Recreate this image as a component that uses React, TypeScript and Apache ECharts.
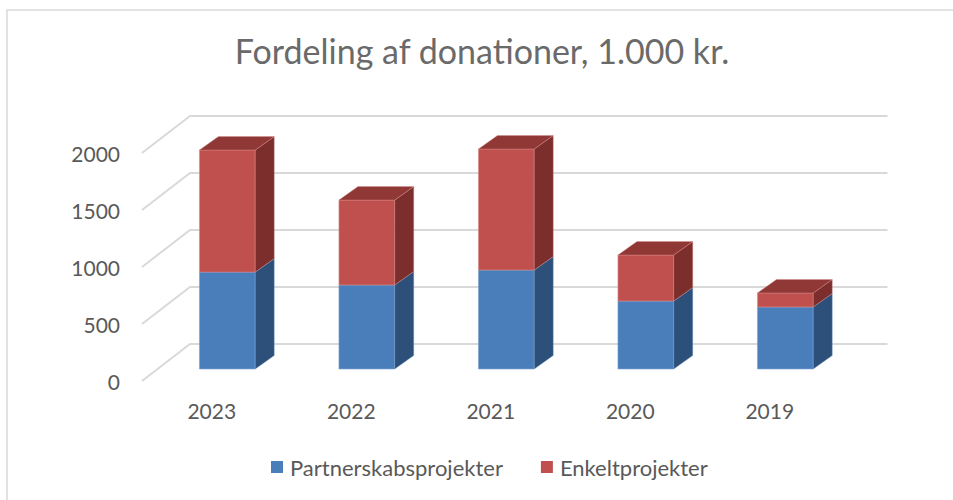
import React, { useEffect, useRef } from "react";
import * as echarts from "echarts";

const categories = ["2023", "2022", "2021", "2020", "2019"];
const partnerskab = [850, 737, 868, 596, 544];
const enkelt = [1071, 745, 1062, 404, 123];
const yTicks = [0, 500, 1000, 1500, 2000];
const seriesNames = ["Partnerskabsprojekter", "Enkeltprojekter"];

const FONT = "Lato, 'Noto Sans', sans-serif";
const TEXT = "#595959";

// 3D projection offsets (pixels)
const OX = 15.6; // bar plane relative to front plane
const OY = -12;
const DX = 19; // bar depth
const DY = -13.5;
const BX = 48; // back wall relative to front plane
const BY = -37;

const palettes = [
  { front: "#4A7EBB", side: "#2C5079", top: "#3A669B", edge: "#7FA3D0" },
  { front: "#C0504D", side: "#7C2E2D", top: "#8F3836", edge: "#D98C8A" },
];

export default function App() {
  const ref = useRef<HTMLDivElement>(null);
  useEffect(() => {
    document.body.style.margin = "0";
    const chart = echarts.init(ref.current!, undefined, { renderer: "svg" });

    const makeBarItem = (si: number, isTop: boolean) => (params: any, api: any) => {
      const i = api.value(0);
      const b = api.value(1);
      const t = api.value(2);
      const pT = api.coord([i, t]);
      const pB = api.coord([i, b]);
      const w = api.size([1, 0])[0] * 0.4;
      const x0 = pT[0] - w / 2 + OX;
      const x1 = x0 + w;
      const yT = pT[1] + OY;
      const yB = pB[1] + OY;
      const pal = palettes[si];
      const children: any[] = [
        {
          type: "rect",
          shape: { x: x0, y: yT, width: w, height: yB - yT },
          style: { fill: pal.front, stroke: pal.edge, lineWidth: 0.6 },
        },
        {
          type: "polygon",
          shape: { points: [[x1, yB], [x1 + DX, yB + DY], [x1 + DX, yT + DY], [x1, yT]] },
          style: { fill: pal.side, stroke: pal.edge, lineWidth: 0.4 },
        },
      ];
      if (isTop) {
        children.push({
          type: "polygon",
          shape: { points: [[x0, yT], [x1, yT], [x1 + DX, yT + DY], [x0 + DX, yT + DY]] },
          style: { fill: pal.top, stroke: pal.edge, lineWidth: 0.4 },
        });
      }
      return { type: "group", children };
    };

    const option: any = {
      animation: false,
      backgroundColor: "#ffffff",
      title: {
        text: "Fordeling af donationer, 1.000 kr.",
        left: 482,
        textAlign: "center",
        top: 33,
        padding: 0,
        textStyle: { fontFamily: FONT, fontSize: 34, fontWeight: "normal", color: "#6a6a6a" },
      },
      legend: {
        data: seriesNames,
        left: 271,
        top: 456,
        padding: 0,
        itemWidth: 12,
        itemHeight: 12,
        itemGap: 38,
        icon: "rect",
        textStyle: { fontFamily: FONT, fontSize: 22, color: TEXT, padding: [0, 0, 0, 2] },
      },
      graphic: [
        {
          type: "rect",
          shape: { x: 7, y: 10, width: 1100, height: 700 },
          style: { fill: "none", stroke: "#d9d9d9", lineWidth: 1.5 },
          silent: true,
        },
      ],
      grid: { left: 142, right: 113.5, top: 153, bottom: 119 },
      xAxis: {
        type: "category",
        data: categories,
        axisLine: { show: false },
        axisTick: { show: false },
        splitLine: { show: false },
        axisLabel: { fontFamily: FONT, fontSize: 21, color: TEXT, margin: 19 },
      },
      yAxis: {
        type: "value",
        min: 0,
        max: 2000,
        interval: 500,
        axisLine: { show: false },
        axisTick: { show: false },
        splitLine: { show: false },
        axisLabel: {
          fontFamily: FONT,
          fontSize: 21,
          color: TEXT,
          margin: 22,
          formatter: (v: number) => String(v),
        },
      },
      series: [
        {
          type: "custom",
          name: "grid",
          silent: true,
          z: 1,
          data: yTicks.map((v) => [0, v]),
          renderItem: (params: any, api: any) => {
            const p = api.coord([0, api.value(1)]);
            const cs = params.coordSys;
            return {
              type: "polyline",
              shape: {
                points: [
                  [cs.x, p[1]],
                  [cs.x + BX, p[1] + BY],
                  [cs.x + cs.width + BX, p[1] + BY],
                ],
              },
              style: { stroke: "#d9d9d9", lineWidth: 2, fill: "none" },
            };
          },
        },
        {
          type: "custom",
          name: seriesNames[0],
          z: 2,
          itemStyle: { color: palettes[0].front },
          encode: { x: 0, y: [1, 2] },
          data: categories.map((_, i) => [i, 0, partnerskab[i]]),
          renderItem: makeBarItem(0, false),
        },
        {
          type: "custom",
          name: seriesNames[1],
          z: 3,
          itemStyle: { color: palettes[1].front },
          encode: { x: 0, y: [1, 2] },
          data: categories.map((_, i) => [i, partnerskab[i], partnerskab[i] + enkelt[i]]),
          renderItem: makeBarItem(1, true),
        },
      ],
    };
    chart.setOption(option);
    return () => chart.dispose();
  }, []);
  return <div ref={ref} style={{ width: 953, height: 500 }} />;
}
